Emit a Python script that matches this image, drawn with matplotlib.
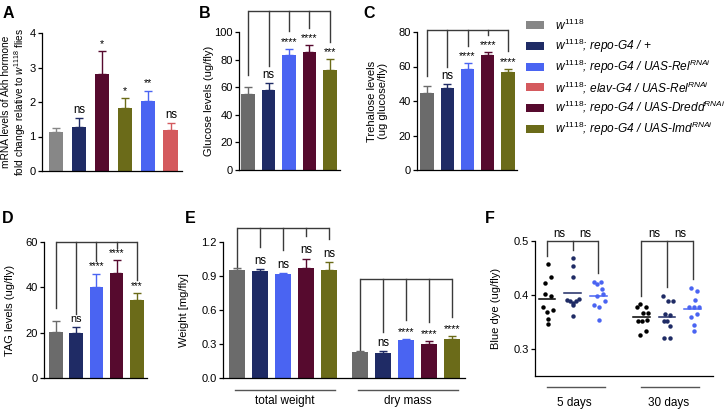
import matplotlib
matplotlib.use('Agg')
import matplotlib.pyplot as plt
import matplotlib.transforms as mtransforms
from matplotlib.patches import Rectangle
import numpy as np

plt.rcParams['font.family'] = ['Liberation Sans', 'DejaVu Sans']
plt.rcParams['mathtext.fontset'] = 'custom'
plt.rcParams['mathtext.rm'] = 'Liberation Sans'
plt.rcParams['mathtext.it'] = 'Liberation Sans:italic'
plt.rcParams['mathtext.bf'] = 'Liberation Sans:bold'

# ---- colours ----
GRAY_A = '#878787'
GRAY = '#6b6b6b'
NAVY = '#1f2b65'
BLUE = '#4a64f2'
RED = '#d45a5e'
MAROON = '#560a2e'
OLIVE = '#6b6b19'
BRK = '#3a3a3a'

# ---- data ----
legend_labels = [
    r'$\mathit{w}^{\mathit{1118}}$',
    r'$\mathit{w}^{\mathit{1118}}$; repo-G4 / +',
    r'$\mathit{w}^{\mathit{1118}}$; repo-G4 / UAS-Rel$^{\mathit{RNAi}}$',
    r'$\mathit{w}^{\mathit{1118}}$; elav-G4 / UAS-Rel$^{\mathit{RNAi}}$',
    r'$\mathit{w}^{\mathit{1118}}$; repo-G4 / UAS-Dredd$^{\mathit{RNAi}}$',
    r'$\mathit{w}^{\mathit{1118}}$; repo-G4 / UAS-Imd$^{\mathit{RNAi}}$',
]
legend_colors = [GRAY_A, NAVY, BLUE, RED, MAROON, OLIVE]

# A: Akh mRNA fold change
a_means = [1.13, 1.27, 2.82, 1.82, 2.03, 1.20]
a_errs = [0.13, 0.27, 0.65, 0.30, 0.30, 0.18]
a_sig = ['', 'ns', '*', '*', '**', 'ns']
a_colors = [GRAY_A, NAVY, MAROON, OLIVE, BLUE, RED]

# B-E share the same five genotypes
bar_colors = [GRAY, NAVY, BLUE, MAROON, OLIVE]

b_means = [55.2, 58.1, 83.5, 85.5, 72.6]
b_errs = [4.8, 4.9, 4.4, 5.1, 7.8]
b_sig = ['', 'ns', '****', '****', '***']

c_means = [44.9, 47.5, 58.7, 66.8, 56.6]
c_errs = [3.9, 2.3, 3.3, 1.6, 2.1]
c_sig = ['', 'ns', '****', '****', '****']

d_means = [20.5, 19.8, 40.2, 46.4, 34.4]
d_errs = [4.8, 2.9, 5.9, 5.6, 3.2]
d_sig = ['', 'ns', '****', '****', '***']

e_total_means = [0.957, 0.942, 0.916, 0.975, 0.951]
e_total_errs = [0.018, 0.018, 0.012, 0.079, 0.073]
e_total_sig = ['', 'ns', 'ns', 'ns', 'ns']
e_dry_means = [0.228, 0.225, 0.337, 0.304, 0.342]
e_dry_errs = [0.012, 0.015, 0.008, 0.024, 0.030]
e_dry_sig = ['', 'ns', '****', '****', '****']
e_groups = ['total weight', 'dry mass']

# F: blue dye uptake, individual flies
f_days = ['5 days', '30 days']
f_colors = ['black', NAVY, BLUE]
f_5d = [
    [0.457, 0.433, 0.423, 0.401, 0.398, 0.378, 0.372, 0.369, 0.355, 0.346],
    [0.468, 0.453, 0.434, 0.390, 0.388, 0.386, 0.389, 0.392, 0.381, 0.362],
    [0.424, 0.421, 0.424, 0.411, 0.402, 0.398, 0.388, 0.381, 0.378, 0.353],
]
f_30d = [
    [0.383, 0.378, 0.378, 0.367, 0.366, 0.352, 0.351, 0.353, 0.334, 0.326],
    [0.398, 0.389, 0.389, 0.365, 0.363, 0.352, 0.352, 0.343, 0.320, 0.321],
    [0.413, 0.408, 0.390, 0.377, 0.377, 0.378, 0.365, 0.360, 0.344, 0.334],
]
# horizontal scatter of the dots as seen in the picture
f_5d_dx = [
    [0.03, 0.14, -0.08, -0.08, 0.14, -0.17, 0.22, 0.01, 0.03, 0.03],
    [0.01, 0.01, 0.01, -0.22, -0.09, 0.01, 0.14, 0.25, 0.01, 0.01],
    [-0.16, -0.05, 0.12, 0.14, 0.18, -0.05, 0.27, -0.16, 0.05, 0.04],
]
f_30d_dx = [
    [-0.07, 0.16, -0.17, 0.07, 0.25, -0.14, 0.03, 0.20, 0.16, -0.07],
    [-0.17, 0.05, 0.22, -0.08, 0.12, -0.01, -0.12, 0.12, -0.10, 0.12],
    [-0.05, 0.16, 0.08, -0.14, 0.05, 0.27, 0.16, -0.05, 0.05, 0.05],
]

# ---- figure ----
W, H = 726, 416
fig = plt.figure(figsize=(W / 100, H / 100), dpi=100)


def px_axes(x0, x1, y0, y1):
    return fig.add_axes([x0 / W, 1 - y1 / H, (x1 - x0) / W, (y1 - y0) / H])


def style(ax, label, label_right_px, x0, x1, fs=8):
    for s in ['top', 'right']:
        ax.spines[s].set_visible(False)
    for s in ['left', 'bottom']:
        ax.spines[s].set_linewidth(0.9)
    ax.tick_params(axis='y', direction='out', length=3, width=0.9,
                   labelsize=8, pad=1.5)
    ax.tick_params(axis='x', bottom=False, labelbottom=False)
    ax.set_ylabel(label, fontsize=fs, linespacing=1.1)
    ax.yaxis.set_label_coords((label_right_px - x0) / (x1 - x0), 0.5)


def bars(ax, xs, means, errs, colors, width=0.66):
    for x, m, e, c in zip(xs, means, errs, colors):
        ax.bar(x, m, width, color=c, zorder=2)
        ax.errorbar(x, m, yerr=[[0], [e]], fmt='none', ecolor=c,
                    elinewidth=1, capsize=3, capthick=1, zorder=3)


def sig(ax, xs, means, errs, labels, fs=8.3):
    for x, m, e, l in zip(xs, means, errs, labels):
        if l:
            ax.annotate(l, (x, m + e), xytext=(0, 1.5), textcoords='offset points',
                        ha='center', va='bottom', fontsize=fs if l == 'ns' else fs - 0.5)


def bracket(ax, xs, ends, ytop):
    ax.plot([xs[0], xs[-1]], [ytop, ytop], color=BRK, lw=1, clip_on=False,
            solid_capstyle='butt')
    for x, e in zip(xs, ends):
        ax.plot([x, x], [e, ytop], color=BRK, lw=1, clip_on=False)


def bracket_ends(means, errs, labels, gap_ref, gap_lab):
    return [m + e + (gap_lab if l else gap_ref)
            for m, e, l in zip(means, errs, labels)]


# ---- A ----
x0, x1 = 42, 182
axA = px_axes(x0, x1, 33, 171)
xa = np.arange(len(a_means))
bars(axA, xa, a_means, a_errs, a_colors, 0.65)
sig(axA, xa, a_means, a_errs, a_sig)
axA.set_xlim(-0.61, 5.48)
axA.set_ylim(0, 4)
axA.set_yticks([0, 1, 2, 3, 4])
style(axA, 'mRNA levels of Akh hormone\nfold change relative to '
      r'$\mathit{w}^{\mathit{1118}}$ flies', 28, x0, x1, fs=7.3)

# ---- B ----
x0, x1 = 239, 340
axB = px_axes(x0, x1, 32, 170)
xb = np.arange(len(b_means))
bars(axB, xb, b_means, b_errs, bar_colors, 0.65)
sig(axB, xb, b_means, b_errs, b_sig)
bracket(axB, xb, bracket_ends(b_means, b_errs, b_sig, 9, 12.5), 115)
axB.set_xlim(-0.44, 4.49)
axB.set_ylim(0, 100)
axB.set_yticks([0, 20, 40, 60, 80, 100])
style(axB, 'Glucose levels (ug/fly)', 214, x0, x1)

# ---- C ----
x0, x1 = 417, 517
axC = px_axes(x0, x1, 32, 170)
xc = np.arange(len(c_means))
bars(axC, xc, c_means, c_errs, bar_colors)
sig(axC, xc, c_means, c_errs, c_sig)
bracket(axC, xc, bracket_ends(c_means, c_errs, c_sig, 5.5, 10), 81)
axC.set_xlim(-0.49, 4.44)
axC.set_ylim(0, 80)
axC.set_yticks([0, 20, 40, 60, 80])
style(axC, 'Trehalose levels\n(ug glucose/fly)', 388, x0, x1)

# ---- D ----
x0, x1 = 44, 147
axD = px_axes(x0, x1, 242, 378)
xd = np.arange(len(d_means))
bars(axD, xd, d_means, d_errs, bar_colors)
sig(axD, xd, d_means, d_errs, d_sig, fs=7.8)
bracket(axD, xd, bracket_ends(d_means, d_errs, d_sig, 5.5, 5.5), 60)
axD.set_xlim(-0.59, 4.5)
axD.set_ylim(0, 60)
axD.set_yticks([0, 20, 40, 60])
style(axD, 'TAG levels (ug/fly)', 15, x0, x1)

# ---- E ----
x0, x1 = 223, 465
axE = px_axes(x0, x1, 242, 378)
xe_t = np.arange(len(e_total_means))
xe_d = xe_t + 5.35
bars(axE, xe_t, e_total_means, e_total_errs, bar_colors, 0.67)
bars(axE, xe_d, e_dry_means, e_dry_errs, bar_colors, 0.67)
sig(axE, xe_t, e_total_means, e_total_errs, e_total_sig)
sig(axE, xe_d, e_dry_means, e_dry_errs, e_dry_sig)
bracket(axE, xe_t, bracket_ends(e_total_means, e_total_errs, e_total_sig, 0.008, 0.2), 1.326)
bracket(axE, xe_d, bracket_ends(e_dry_means, e_dry_errs, e_dry_sig, 0.01, 0.17), 0.872)
axE.set_xlim(-0.61, 9.91)
axE.set_ylim(0, 1.2)
axE.set_yticks([0, 0.3, 0.6, 0.9, 1.2])
axE.set_yticklabels(['0.0', '0.3', '0.6', '0.9', '1.2'])
style(axE, 'Weight [mg/fly]', 189, x0, x1)
trE = mtransforms.blended_transform_factory(axE.transData, axE.transAxes)
for xs, name in zip([xe_t, xe_d], e_groups):
    axE.plot([xs[0] - 0.1, xs[-1] + 0.25], [-0.088, -0.088], color='#555555',
             lw=1, transform=trE, clip_on=False)
    axE.text((xs[0] + xs[-1]) / 2 + 0.07, -0.125, name, transform=trE,
             ha='center', va='top', fontsize=8.5)

# ---- F ----
x0, x1 = 535, 713
axF = px_axes(x0, x1, 241, 376)
f_sets = [(f_5d, f_5d_dx, 0.0), (f_30d, f_30d_dx, 3.7)]
for vals, dxs, base in f_sets:
    xs = [base + k for k in range(3)]
    ends = []
    for k, (v, dx, c) in enumerate(zip(vals, dxs, f_colors)):
        axF.plot(np.array(dx) + xs[k], v, 'o', color=c, ms=3.2, mew=0,
                 clip_on=False, zorder=3)
        mu = np.mean(v)
        axF.plot([xs[k] - 0.33, xs[k] + 0.33], [mu, mu], color=c, lw=1.1, zorder=2)
        ends.append(max(v) + 0.016)
    bracket(axF, xs, ends, 0.5)
    for a, b in zip(xs[:-1], xs[1:]):
        axF.annotate('ns', ((a + b) / 2, 0.5), xytext=(0, 1), textcoords='offset points',
                     ha='center', va='bottom', fontsize=8.3)
axF.set_xlim(-0.47, 6.5)
axF.set_ylim(0.25, 0.5)
axF.set_yticks([0.3, 0.4, 0.5])
axF.set_yticklabels(['0.3', '0.4', '0.5'])
style(axF, 'Blue dye (ug/fly)', 501, x0, x1)
trF = mtransforms.blended_transform_factory(axF.transData, axF.transAxes)
for (vals, dxs, base), name in zip(f_sets, f_days):
    axF.plot([base, base + 2.27], [-0.081, -0.081], color='#555555', lw=1,
             transform=trF, clip_on=False)
    axF.text(base + 1.05, -0.155, name, transform=trF, ha='center', va='top',
             fontsize=8.5)

# ---- panel letters ----
for letter, (px, py) in zip('ABCDEF', [(3, 6), (199, 6), (363, 6),
                                        (2, 211), (185, 211), (485, 211)]):
    fig.text(px / W, 1 - py / H, letter, fontsize=11.5, fontweight='bold',
             ha='left', va='top')

# ---- legend ----
row_y = np.linspace(25, 129, len(legend_labels))
for y, lab, c in zip(row_y, legend_labels, legend_colors):
    fig.patches.append(Rectangle((526 / W, 1 - (y + 4) / H), 18 / W, 8 / H,
                                 facecolor=c, transform=fig.transFigure, figure=fig))
    fig.text(555 / W, 1 - y / H, lab, fontsize=8.6, style='italic',
             ha='left', va='center')

fig.savefig('out.png', dpi=100)
